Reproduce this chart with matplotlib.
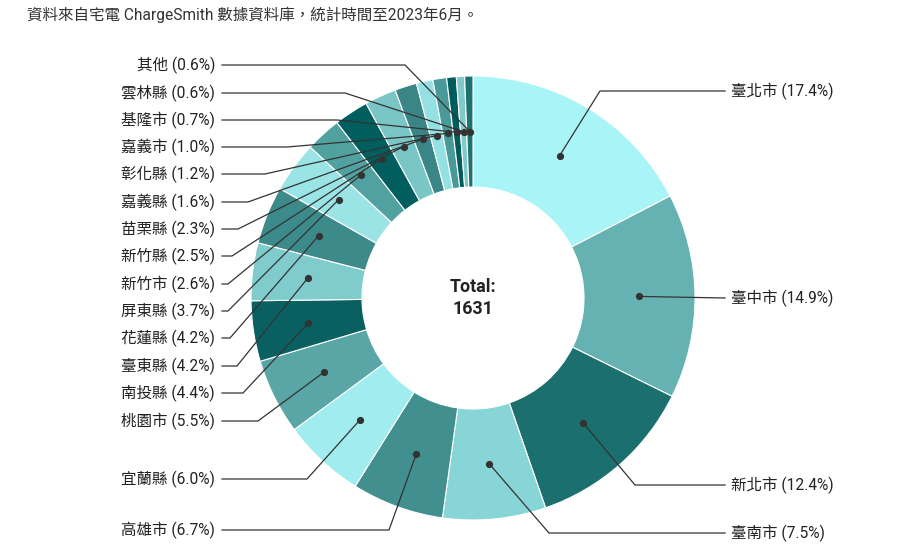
import matplotlib
matplotlib.use("Agg")
import matplotlib.pyplot as plt
import numpy as np

# ---- data ----
regions = ["臺北市", "臺中市", "新北市", "臺南市", "高雄市", "宜蘭縣", "桃園市", "南投縣",
           "臺東縣", "花蓮縣", "屏東縣", "新竹市", "新竹縣", "苗栗縣", "嘉義縣", "彰化縣",
           "嘉義市", "基隆市", "雲林縣", "其他"]
shares = [17.4, 14.9, 12.4, 7.5, 6.7, 6.0, 5.5, 4.4, 4.2, 4.2, 3.7, 2.6, 2.5, 2.3, 1.6,
          1.2, 1.0, 0.7, 0.6, 0.6]
total = 1631
title = "資料來自宅電 ChargeSmith 數據資料庫，統計時間至2023年6月。"

# ---- style / layout ----
colors = ["#a9f4f6", "#66b2b2", "#1b6f6f", "#88d5d7", "#418f8f", "#a0ecee", "#5aa6a6",
          "#0a6060", "#80cccc", "#3d8a8a", "#9ae4e6", "#52a1a1", "#005e5e", "#7ac6c6",
          "#3a8686", "#94e0e2", "#4a9999", "#005c5c", "#80caca", "#1e7171"]
# label side, label y (pixel), elbow x (pixel)
sides = ["R", "R", "R", "R"] + ["L"] * 16
label_y = [91, 298, 485, 533, 530, 479, 421, 393, 366, 338, 311, 284, 256, 229, 202,
           174, 147, 120, 93, 65]
elbow_x = [600, 725, 635, 549, 389, 307, 258, 243, 237, 230, 228, 228, 232, 238, 248,
           265, 287, 337, 345, 405]

W, H = 900, 559
fig = plt.figure(figsize=(W / 100, H / 100), dpi=100)
ax = fig.add_axes([0, 0, 1, 1])

def Y(py):
    return H - py

cx, cy, R = 473, Y(298), 222
wedges, _ = ax.pie(shares, colors=colors, startangle=90, counterclock=False,
                   center=(cx, cy), radius=R,
                   wedgeprops=dict(width=R / 2, edgecolor="white", linewidth=0.8))
ax.set_xlim(0, W)
ax.set_ylim(0, H)
ax.set_aspect("equal")
ax.axis("off")

fam = ["Roboto", "Noto Sans CJK TC"]
line_c = "#333333"
for w, name, s, side, ly, ex in zip(wedges, regions, shares, sides, label_y, elbow_x):
    mid = np.deg2rad((w.theta1 + w.theta2) / 2)
    rm = w.r - w.width / 2
    dx = w.center[0] + rm * np.cos(mid)
    dy = w.center[1] + rm * np.sin(mid)
    ax.plot([dx], [dy], "o", color=line_c, ms=4.2, zorder=5)
    if side == "R":
        ax.plot([dx, ex, 725], [dy, Y(ly), Y(ly)], color=line_c, lw=0.9, zorder=4)
        ax.text(731, Y(ly), f"{name} ({s:.1f}%)", ha="left", va="center",
                fontsize=11.2, family=fam, color="#222222")
    else:
        ax.plot([dx, ex, 222], [dy, Y(ly), Y(ly)], color=line_c, lw=0.9, zorder=4)
        ax.text(215, Y(ly), f"{name} ({s:.1f}%)", ha="right", va="center",
                fontsize=11.2, family=fam, color="#222222")

ax.text(cx, cy, f"Total:\n{total}", ha="center", va="center", fontsize=12.8,
        fontweight="bold", family=fam, color="#222222", linespacing=1.3)

ax.text(27, Y(15), title, ha="left", va="center", fontsize=11.2, family=fam,
        color="#333333")

fig.savefig("out.png", dpi=100)
